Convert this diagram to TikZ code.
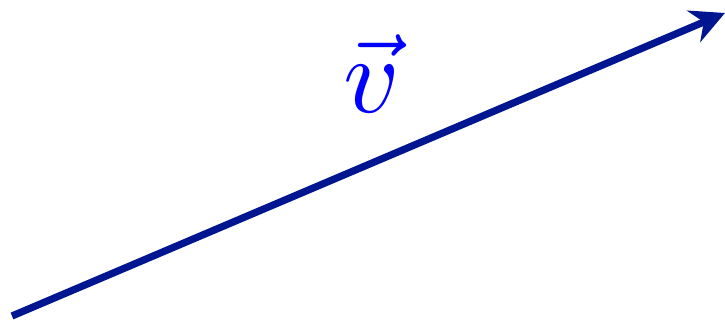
\documentclass[tikz,border=0pt]{standalone}
\usepackage{graphicx}
\usetikzlibrary{arrows.meta}
\definecolor{arrowcol}{RGB}{0,22,145}
\tikzset{vecarrow/.style={draw=arrowcol, line width=7.2pt, -{Stealth[length=34pt,width=34pt,inset=11pt,fill=arrowcol]}}}
\begin{document}
\begin{tikzpicture}[x=1pt,y=-1pt]
\useasboundingbox (0,0) rectangle (725,321);
\coordinate (s) at (12,316);
\coordinate (e) at (725,13);
\draw[vecarrow] (s) -- (e);
\node[inner sep=0pt, text=blue] (lbl) at (371.5,73.5) {\scalebox{10.9}{$\vec{v}$}};
\end{tikzpicture}
\end{document}
